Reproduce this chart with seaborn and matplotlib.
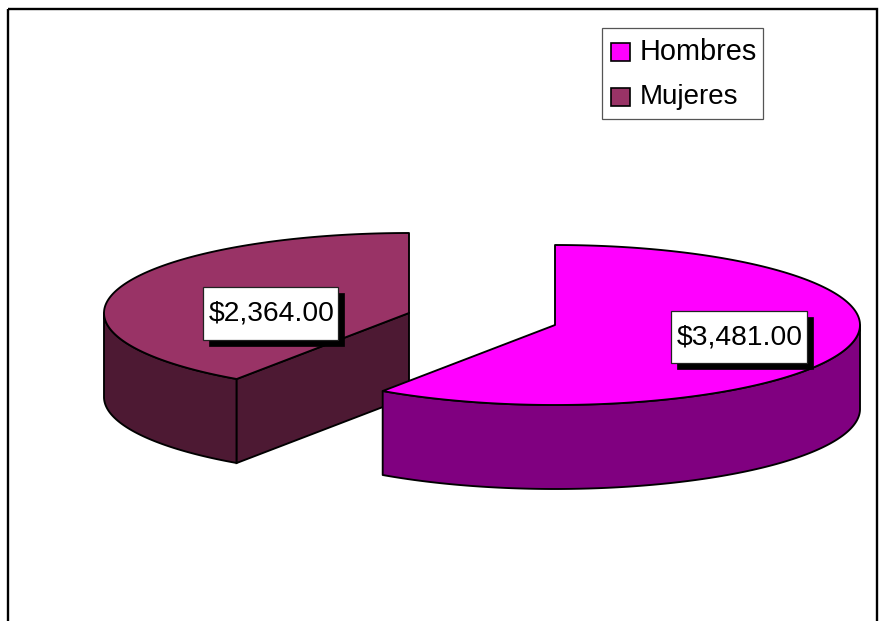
import numpy as np
import matplotlib
matplotlib.use("Agg")
import matplotlib.pyplot as plt
from matplotlib.patches import Rectangle
import seaborn as sns

categories = ["Hombres", "Mujeres"]
values = [3481.0, 2364.0]
top_colors = ["#FF00FF", "#993366"]
side_colors = ["#800080", "#4D1933"]

sns.set_theme(style="white", font="Liberation Sans")
plt.rcParams["font.family"] = ["Liberation Sans", "DejaVu Sans"]

W, H = 892, 621
fig = plt.figure(figsize=(W / 100, H / 100), dpi=100, facecolor="white")
ax = fig.add_axes([0, 0, 1, 1])
ax.set_xlim(0, W)
ax.set_ylim(H, 0)
ax.axis("off")

# chart frame (runs past the bottom edge)
ax.add_patch(Rectangle((7.5, 9), 869.5, H + 20, fill=False, ec="black", lw=1.7, zorder=1))

RX, RY, DEPTH = 305, 80, 84
centers = [(555, 325), (409, 313)]
lw = 1.35

fractions = np.array(values) / sum(values)
edges = np.concatenate([[0], np.cumsum(fractions)]) * 2 * np.pi


def rim(c, a, b, n=200, dy=0):
    t = np.linspace(a, b, n)
    return c[0] + RX * np.sin(t), c[1] - RY * np.cos(t) + dy


def draw_wall(c, a, b, color):
    x, y = rim(c, a, b)
    ax.fill(np.r_[x, x[::-1]], np.r_[y, y[::-1] + DEPTH], fc=color, ec="black", lw=lw,
            joinstyle="round", zorder=3)


# the rear slice first, so the nearer one covers it
for i in [1, 0]:
    c = centers[i]
    a, b = edges[i], edges[i + 1]
    lo, hi = max(a, np.pi / 2), min(b, 3 * np.pi / 2)
    if hi > lo:
        draw_wall(c, lo, hi, side_colors[i])
    if i == 1:
        px, py = rim(c, a, a, n=1)
        ax.fill([px[0], c[0], c[0], px[0]], [py[0], c[1], c[1] + DEPTH, py[0] + DEPTH],
                fc=side_colors[i], ec="black", lw=lw, zorder=3)
    x, y = rim(c, a, b)
    ax.fill(np.r_[c[0], x], np.r_[c[1], y], fc=top_colors[i], ec="black", lw=lw,
            joinstyle="round", zorder=3)

# data labels
label_boxes = [(671, 311, 136, 52), (203, 287, 135, 53)]
for val, (bx, by, bw, bh) in zip(values, label_boxes):
    ax.add_patch(Rectangle((bx + 6, by + 6), bw, bh, fc="black", ec="black", lw=0.5, zorder=5))
    ax.add_patch(Rectangle((bx, by), bw, bh, fc="white", ec="#222222", lw=0.9, zorder=6))
    ax.text(bx + bw / 2 + 1, by + bh / 2 + 0.5, f"${val:,.2f}", ha="center", va="center",
            fontsize=20.3, color="black", zorder=7)

# legend
ax.add_patch(Rectangle((602, 27.5), 161, 91, fc="white", ec="#555555", lw=0.9, zorder=5))
for name, color, yc, fs in zip(categories, top_colors, [52, 97], [20.8, 20.0]):
    ax.add_patch(Rectangle((611, yc - 9), 18.5, 18, fc=color, ec="black", lw=1.2, zorder=6))
    ax.text(640, yc + 0.5, name, ha="left", va="center", fontsize=fs, color="black", zorder=7)

fig.savefig("out.png", dpi=100, facecolor="white")
